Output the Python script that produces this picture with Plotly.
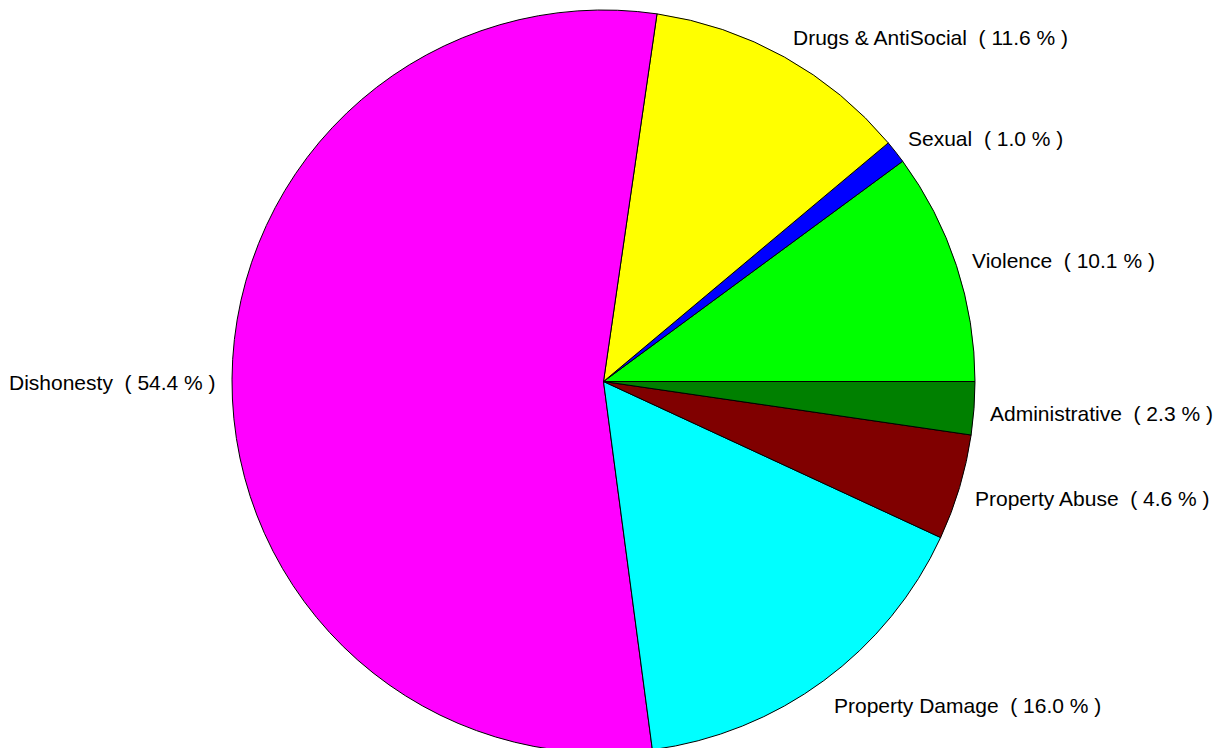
import math
import plotly.graph_objects as go

categories = ["Violence", "Sexual", "Drugs & AntiSocial", "Dishonesty",
              "Property Damage", "Property Abuse", "Administrative"]
percents = [10.1, 1.0, 11.6, 54.4, 16.0, 4.6, 2.3]
colors = ["#00FF00", "#0000FF", "#FFFF00", "#FF00FF",
          "#00FFFF", "#800000", "#008000"]

NB = "\u00a0"
label_texts = [f"{c}{NB}{NB}({NB}{p:.1f}{NB}%{NB})" for c, p in zip(categories, percents)]

W, H = 1226, 748
ML, MR, MT, MB = 0, 35, 2, 3
PW, PH = W - ML - MR, H - MT - MB
R = min(PW, PH) / 2.0
CX, CY = PW / 2.0, PH / 2.0

total = sum(percents)
# Plotly offsets a counterclockwise pie by its first slice; compensate so that
# the first slice starts at 3 o'clock
rotation = 90 - 360 * percents[0] / total

fig = go.Figure(go.Pie(
    labels=categories,
    values=percents,
    textinfo="none",
    sort=False,
    direction="counterclockwise",
    rotation=rotation,
    domain=dict(x=[0, 1], y=[0, 1]),
    marker=dict(colors=colors, line=dict(color="black", width=1)),
    hoverinfo="none",
    showlegend=False,
))

# outside labels placed at each slice's mid angle
annotations = []
cum = 0.0
for txt, v in zip(label_texts, percents):
    theta = math.radians(360.0 * (cum + v / 2.0) / total)
    cum += v
    c, s = math.cos(theta), math.sin(theta)
    x_px = CX + 1.04 * R * c
    y_px = CY - 1.072 * R * s + 3.5
    annotations.append(dict(
        x=x_px / PW, y=1 - y_px / PH, xref="paper", yref="paper",
        text=txt, showarrow=False,
        xanchor="left" if c >= 0 else "right", yanchor="middle",
        font=dict(family="Liberation Sans, Arial, sans-serif", size=21, color="black"),
        borderpad=0,
    ))

fig.update_layout(
    width=W, height=H,
    margin=dict(l=ML, r=MR, t=MT, b=MB),
    paper_bgcolor="white", plot_bgcolor="white",
    annotations=annotations,
)

fig.write_html("out.html")
